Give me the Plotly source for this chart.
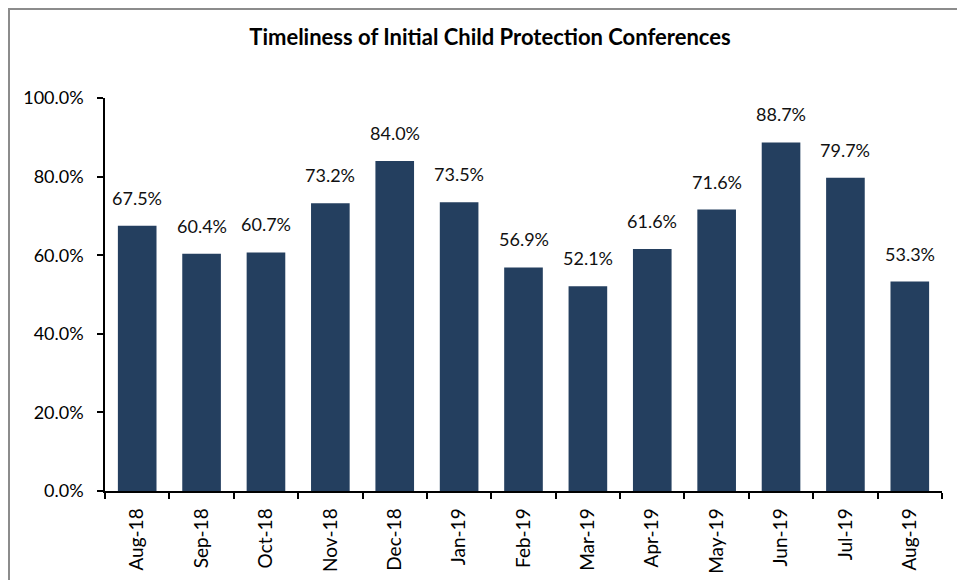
import plotly.graph_objects as go

categories = ["Aug-18", "Sep-18", "Oct-18", "Nov-18", "Dec-18", "Jan-19", "Feb-19",
              "Mar-19", "Apr-19", "May-19", "Jun-19", "Jul-19", "Aug-19"]
values = [67.5, 60.4, 60.7, 73.2, 84.0, 73.5, 56.9, 52.1, 61.6, 71.6, 88.7, 79.7, 53.3]
tick_vals = [0, 20, 40, 60, 80, 100]
tick_text = ["0.0%", "20.0%", "40.0%", "60.0%", "80.0%", "100.0%"]

FONT = "Lato, 'Open Sans', sans-serif"
BAR = "#243F5F"

fig = go.Figure()
fig.add_trace(go.Bar(x=categories, y=values, marker=dict(color=BAR, line=dict(width=0)),
                     width=0.6, hoverinfo="skip"))

for c, v in zip(categories, values):
    fig.add_annotation(x=c, y=v, text=f"{v:.1f}%", showarrow=False, yanchor="bottom",
                       yshift=15, font=dict(family=FONT, size=18, color="#111111"))

# outer chart border
fig.add_shape(type="rect", xref="paper", yref="paper", x0=-0.1147, x1=1.2, y0=-0.5, y1=1.2265,
              line=dict(color="#8c8c8c", width=2), layer="below")

fig.update_layout(
    width=957, height=580,
    margin=dict(l=105, r=15, t=98, b=89, autoexpand=False),
    paper_bgcolor="white", plot_bgcolor="white",
    showlegend=False,
    title=dict(text="<b>Timeliness of Initial Child Protection Conferences</b>",
               x=0.512, xanchor="center", y=0.935, yanchor="middle",
               font=dict(family=FONT, size=22, color="black")),
    font=dict(family=FONT, color="black"),
)
fig.update_yaxes(range=[0, 100], tickvals=tick_vals, ticktext=tick_text, automargin=False,
                 showgrid=False, zeroline=False, showline=True, linecolor="black", linewidth=1.5,
                 ticks="outside", ticklen=6, tickcolor="black", tickwidth=1.5, ticklabelstandoff=10,
                 tickfont=dict(family=FONT, size=18, color="black"))
fig.update_xaxes(tickangle=-90, showgrid=False, showline=True, linecolor="black", linewidth=1.5,
                 ticks="outside", ticklen=6, tickcolor="black", tickwidth=1.5, tickson="boundaries",
                 ticklabelstandoff=8, automargin=False,
                 tickfont=dict(family=FONT, size=19, color="black"))

fig.write_html("out.html", config={"displayModeBar": False},
               post_script="document.body.style.margin='0';document.body.style.overflow='hidden';")
